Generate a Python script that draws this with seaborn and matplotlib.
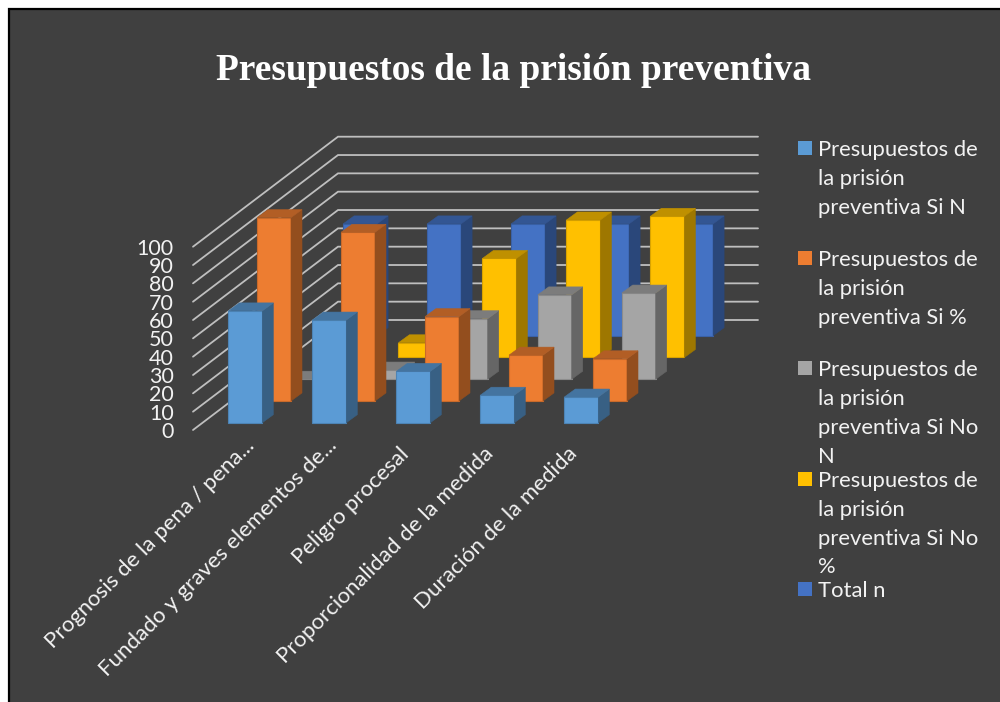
import matplotlib
matplotlib.use("Agg")
import matplotlib.pyplot as plt
from matplotlib.patches import Rectangle
from matplotlib.colors import to_rgb
from matplotlib.transforms import ScaledTranslation
import seaborn as sns

categories = [
    "Prognosis de la pena / pena...",
    "Fundado y graves elementos de...",
    "Peligro procesal",
    "Proporcionalidad de la medida",
    "Duración de la medida",
]
si_n = [61, 56, 28, 15, 14]
si_pct = [100, 92, 46, 25, 23]
si_no_n = [0, 5, 33, 46, 47]
si_no_pct = [0, 8, 54, 75, 77]
total_n = [61, 61, 61, 61, 61]
value_ticks = list(range(0, 101, 10))

title = "Presupuestos de la prisión preventiva"
legend_labels = [
    "Presupuestos de\nla prisión\npreventiva Si N",
    "Presupuestos de\nla prisión\npreventiva Si %",
    "Presupuestos de\nla prisión\npreventiva Si No\nN",
    "Presupuestos de\nla prisión\npreventiva Si No\n%",
    "Total n",
]
series_colors = ["#5B9BD5", "#ED7D31", "#A5A5A5", "#FFC000", "#4472C4"]

W, H = 1000, 702
BG = "#404040"
TEXT = "#F2F2F2"
GRID = "#BFBFBF"
CAT_PX = 84.0        # horizontal pixels per category
UNIT_PX = 1.833      # vertical pixels per value unit
BAR_PX = 34.0        # width of a bar's front face
BAR_DEPTH = (11.0, 8.0)     # receding offset of one bar
SERIES_STEP = (28.7, 21.75) # shift between consecutive series rows
WALL_DEPTH = (145.0, 110.0) # shift from the front plane to the back wall
# Nudge of each category label from its tick, in pixels (right, down)
LABEL_NUDGE = [(9, 0), (8, 0), (-4, 8), (-4, 8), (-4, 8)]

sns.set_theme(style="white", rc={"axes.facecolor": "none"})
plt.rcParams["font.family"] = ["Lato", "DejaVu Sans"]

fig = plt.figure(figsize=(W / 100, H / 100), dpi=100, facecolor="white")


def fig_rect(left_px, zero_y_px):
    """Axes rectangle spanning all categories and the 0-100 value range."""
    return [left_px / W, 1 - zero_y_px / H,
            5 * CAT_PX / W, 100 * UNIT_PX / H]


def shade(color, factor):
    return tuple(c * factor for c in to_rgb(color))


# Dark panel with its black top and left border
fig.add_artist(Rectangle((8.5 / W, -0.01), 1, 1 - 8.5 / H + 0.01,
                         transform=fig.transFigure, facecolor=BG,
                         edgecolor="black", linewidth=1.6, zorder=-5))

# Walls, value axis and category labels
base = fig.add_axes(fig_rect(193, 430))
base.set_xlim(-0.5, 4.5)
base.set_ylim(0, 100)
for spine in base.spines.values():
    spine.set_visible(False)
wall_dx = WALL_DEPTH[0] / CAT_PX
wall_dv = WALL_DEPTH[1] / UNIT_PX
for v in value_ticks:
    base.plot([-0.5, -0.5 + wall_dx, 4.5 + wall_dx],
              [v, v + wall_dv, v + wall_dv],
              color=GRID, lw=1.3, clip_on=False, solid_joinstyle="miter")
base.set_yticks(value_ticks)
base.set_yticklabels([str(v) for v in value_ticks])
base.set_xticks(range(len(categories)))
base.set_xticklabels(categories, rotation=45, ha="right", rotation_mode="anchor")
base.tick_params(axis="y", length=0, pad=14, labelsize=15.5, labelcolor=TEXT)
base.tick_params(axis="x", length=0, pad=4, labelsize=16, labelcolor=TEXT)
for label, (right, down) in zip(base.get_xticklabels(), LABEL_NUDGE):
    nudge = ScaledTranslation(right / 100, -down / 100, fig.dpi_scale_trans)
    label.set_transform(label.get_transform() + nudge)

# Bar rows, from the back row to the front row
rows = [si_n, si_pct, si_no_n, si_no_pct, total_n]
depth_dx = BAR_DEPTH[0] / CAT_PX
depth_dv = BAR_DEPTH[1] / UNIT_PX
for i in range(len(rows) - 1, -1, -1):
    left = 245.3 - CAT_PX / 2 + SERIES_STEP[0] * i
    zero_y = 422.7 - SERIES_STEP[1] * i
    ax = fig.add_axes(fig_rect(left, zero_y))
    color = series_colors[i]
    sns.barplot(x=categories, y=rows[i], color=color, saturation=1,
                width=BAR_PX / CAT_PX, ax=ax,
                edgecolor=shade(color, 0.85), linewidth=0.8)
    ax.set_xlim(-0.5, 4.5)
    ax.set_ylim(0, 100)
    ax.axis("off")
    for bar in ax.containers[0]:
        bar.set_clip_on(False)
        x0, w, h = bar.get_x(), bar.get_width(), bar.get_height()
        x1 = x0 + w
        ax.fill([x1, x1 + depth_dx, x1 + depth_dx, x1],
                [0, depth_dv, h + depth_dv, h],
                facecolor=shade(color, 0.62), edgecolor=shade(color, 0.62),
                linewidth=0.4, clip_on=False)
        ax.fill([x0, x1, x1 + depth_dx, x0 + depth_dx],
                [h, h, h + depth_dv, h + depth_dv],
                facecolor=shade(color, 0.75), edgecolor=shade(color, 0.75),
                linewidth=0.4, clip_on=False)

# Title
fig.text(514 / W, 1 - 71 / H, title, ha="center", va="center",
         family="Liberation Serif", weight="bold", fontsize=26.9, color="white")

# Legend keys and their wrapped labels
for i, (label, color) in enumerate(zip(legend_labels, series_colors)):
    top = 141 + 110.2 * i
    fig.add_artist(Rectangle((798 / W, 1 - (top + 14) / H), 14 / W, 14 / H,
                             transform=fig.transFigure, facecolor=color,
                             edgecolor="none"))
    fig.text(818 / W, 1 - (top - 1) / H, label, ha="left", va="top", ma="left",
             fontsize=15.8, color=TEXT, linespacing=1.56)

fig.savefig("out.png", dpi=100, facecolor=fig.get_facecolor())
